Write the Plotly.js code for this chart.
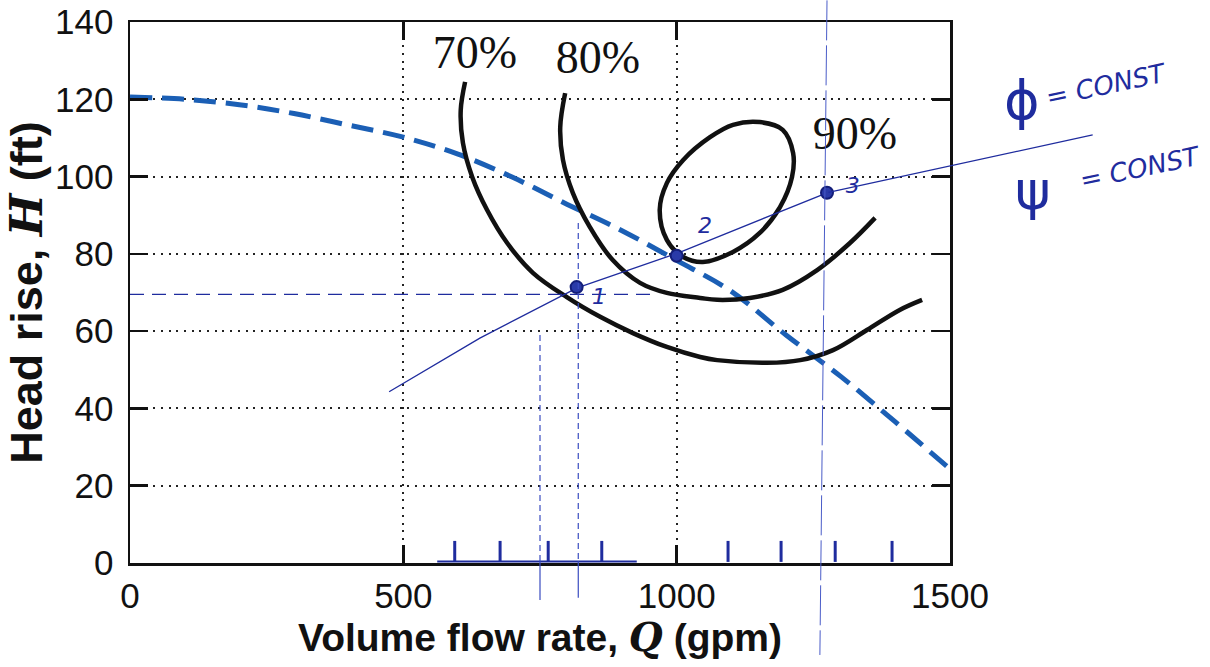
<!DOCTYPE html>
<html>
<head>
<meta charset="utf-8">
<script src="https://cdn.plot.ly/plotly-3.0.1.min.js"></script>
<style>html,body{margin:0;padding:0;background:#fff;}#chart{width:1210px;height:667px;}</style>
</head>
<body>
<div id="chart"></div>
<script>
// ---- data ----
const xTicks = [0, 500, 1000, 1500];
const yTicks = [0, 20, 40, 60, 80, 100, 120, 140];

// pump performance curve (dashed blue)
const pumpQ = [0, 100, 200, 300, 400, 500, 600, 700, 800, 900, 1000, 1100, 1200, 1300, 1400, 1500];
const pumpH = [120.6, 120.0, 118.6, 116.3, 113.3, 110.2, 105.8, 99.8, 92.8, 86.0, 78.3, 70.3, 59.0, 48.3, 36.5, 24.3];

// efficiency contours
const eff70Q = [613, 605, 609, 626, 653, 690, 737, 799, 860, 920, 982, 1043, 1074, 1165, 1226, 1286, 1348, 1408, 1449];
const eff70H = [124.5, 117.2, 108.7, 99.9, 91.4, 82.8, 75.1, 68.8, 63.7, 59.5, 55.9, 53.3, 52.5, 51.8, 52.5, 55.1, 60.3, 65.5, 68.1];
const eff80Q = [796, 787, 792, 810, 841, 883, 933, 982, 1043, 1074, 1134, 1194, 1257, 1317, 1363];
const eff80H = [121.6, 112.8, 104.3, 95.8, 87.0, 78.4, 72.5, 69.9, 68.6, 68.1, 68.6, 70.7, 75.8, 82.8, 89.3];
const eff90Q = [1152, 1194, 1213, 1211, 1189, 1152, 1103, 1048, 1012, 982, 969, 982, 1012, 1061, 1103, 1152];
const eff90H = [114.1, 112.1, 106.1, 99.9, 92.1, 85.4, 80.5, 77.9, 79.2, 83.6, 91.4, 98.3, 104.3, 110.2, 113.4, 114.1];
const effLabels = ["70%", "80%", "90%"];
const effLabelQ = [631, 856, 1326];
const effLabelH = [131, 129.7, 110];

// handwritten annotations
const simQ = [474, 640, 818, 1002, 1275];          // similarity (phi, psi = const) line
const simH = [44.3, 58.2, 71.2, 80.2, 95.8];
const simEndQ = 1761, simEndH = 110.8;
const opQ = [817, 1000, 1275];                      // operating points 1, 2, 3
const opH = [71.4, 79.5, 95.8];
const opLabels = ["1", "2", "3"];
const opLabelQ = [858, 1052, 1322];
const opLabelH = [68.5, 86.7, 97.3];
const guideHQ = [0, 960];                           // horizontal guide at H ~ 70
const guideHH = [69.5, 69.5];
const tickMarkQ = [594, 677, 765, 863, 1094, 1191, 1290, 1394];
const tickMarkH = [3, 3, 3, 3, 3, 3, 3, 3];
const baseQ = [562, 927];
const baseH = [0.4, 0.4];
const vertQ = [750, 820];                            // dashed verticals
const vertTopH = [59, 88];
const vert3Q = [1275, 1262];                         // long vertical through point 3 (top, bottom)
const label850Q = 850;

const ink = '#1f2c9e';
const black = '#111111';

const traces = [
  {x: pumpQ, y: pumpH, mode: 'lines', line: {color: '#1b5fb5', width: 5, dash: '22px,10px', shape: 'spline'}, hoverinfo: 'skip'},
  {x: eff70Q, y: eff70H, mode: 'lines', line: {color: black, width: 4.5, shape: 'spline'}, hoverinfo: 'skip'},
  {x: eff80Q, y: eff80H, mode: 'lines', line: {color: black, width: 4.5, shape: 'spline'}, hoverinfo: 'skip'},
  {x: eff90Q, y: eff90H, mode: 'lines', line: {color: black, width: 4.5, shape: 'spline'}, hoverinfo: 'skip'},
  {x: guideHQ, y: guideHH, mode: 'lines', line: {color: ink, width: 1.2, dash: '14px,8px'}, hoverinfo: 'skip'},
  {x: simQ, y: simH, mode: 'lines', line: {color: ink, width: 1.3}, hoverinfo: 'skip'},
  {x: baseQ, y: baseH, mode: 'lines', line: {color: ink, width: 2}, hoverinfo: 'skip'},
  {x: tickMarkQ, y: tickMarkH, mode: 'markers', marker: {symbol: 'line-ns', size: 15, line: {color: ink, width: 3}}, hoverinfo: 'skip'},
  {x: opQ, y: opH, mode: 'markers', marker: {symbol: 'circle', size: 12, color: '#2a3aa8', line: {color: '#141e78', width: 2}}, hoverinfo: 'skip'},
  {x: effLabelQ, y: effLabelH, mode: 'text', text: effLabels, textfont: {family: 'Liberation Serif, serif', size: 46, color: black}, hoverinfo: 'skip'},
  {x: opLabelQ, y: opLabelH, mode: 'text', text: opLabels, textfont: {family: 'DejaVu Sans, sans-serif', size: 22, color: ink, style: 'italic'}, hoverinfo: 'skip'}
];

const shapes = [];
for (let i = 0; i < vertQ.length; i++) {
  shapes.push({type: 'line', xref: 'x', yref: 'y', x0: vertQ[i], x1: vertQ[i], y0: vertTopH[i], y1: 0,
    line: {color: '#3a4cc0', width: 1.2, dash: '6px,4px'}, layer: 'above'});
}
shapes.push({type: 'line', xref: 'x', yref: 'paper', x0: vert3Q[0], x1: vert3Q[1], y0: 1.04, y1: -0.17,
  line: {color: '#4a5cc8', width: 1, dash: '40px,5px'}, layer: 'above'});

const hw = {family: 'DejaVu Sans, sans-serif', color: ink};
const annotations = [
  // continuation of the similarity line beyond the frame
  {x: simEndQ, y: simEndH, xref: 'x', yref: 'y', ax: simQ[simQ.length - 1], ay: simH[simH.length - 1], axref: 'x', ayref: 'y',
   showarrow: true, arrowhead: 0, arrowwidth: 1.3, arrowcolor: ink, text: ' ', font: {size: 1}, standoff: 0, startstandoff: 0},
  // dashed verticals continuing below the axis
  {x: vertQ[0], y: -9.6, xref: 'x', yref: 'y', ax: vertQ[0], ay: 1, axref: 'x', ayref: 'y', showarrow: true, arrowhead: 0,
   arrowwidth: 1.2, arrowcolor: '#3a4cc0', text: ' ', font: {size: 1}},
  {x: vertQ[1], y: -9, xref: 'x', yref: 'y', ax: vertQ[1], ay: 1, axref: 'x', ayref: 'y', showarrow: true, arrowhead: 0,
   arrowwidth: 1.2, arrowcolor: '#3a4cc0', text: ' ', font: {size: 1}},
  {x: label850Q, y: -11.5, xref: 'x', yref: 'y', text: '850', showarrow: false,
   font: Object.assign({size: 26, style: 'italic'}, hw)},
  {x: 1.088, y: 0.854, xref: 'paper', yref: 'paper', xanchor: 'center', yanchor: 'middle', text: 'ϕ', showarrow: false,
   font: Object.assign({size: 54}, hw)},
  {x: 1.191, y: 0.884, xref: 'paper', yref: 'paper', xanchor: 'center', yanchor: 'middle', text: '= CONST', showarrow: false, textangle: -12,
   font: Object.assign({size: 26, style: 'italic'}, hw)},
  {x: 1.101, y: 0.689, xref: 'paper', yref: 'paper', xanchor: 'center', yanchor: 'middle', text: 'ψ', showarrow: false,
   font: Object.assign({size: 54}, hw)},
  {x: 1.232, y: 0.730, xref: 'paper', yref: 'paper', xanchor: 'center', yanchor: 'middle', text: '= CONST', showarrow: false, textangle: -12,
   font: Object.assign({size: 26, style: 'italic'}, hw)}
];

const axisCommon = {
  showline: true, linecolor: black, linewidth: 2.5, mirror: 'ticks',
  ticks: 'inside', ticklen: 18, tickwidth: 2.5, tickcolor: black,
  showgrid: true, gridcolor: '#222', gridwidth: 2, griddash: '2px,5.7px',
  zeroline: false, tickfont: {family: 'Liberation Sans, Arial, sans-serif', size: 35, color: black}
};

const layout = {
  width: 1210, height: 667,
  margin: {l: 130, r: 260, t: 22, b: 104},
  paper_bgcolor: '#ffffff', plot_bgcolor: '#ffffff',
  showlegend: false,
  xaxis: Object.assign({}, axisCommon, {
    range: [0, 1500], tickmode: 'array', tickvals: xTicks, ticktext: xTicks.map(String),
    ticklabelstandoff: 0,
    title: {text: 'Volume flow rate, <span style="font-family:\'DejaVu Serif\'"><i>Q</i></span> (gpm)', standoff: 10,
      font: {family: 'Liberation Sans, Arial, sans-serif', size: 39, color: black, weight: 'bold'}}
  }),
  yaxis: Object.assign({}, axisCommon, {
    range: [0, 140], tickmode: 'array', tickvals: yTicks, ticktext: yTicks.map(String),
    ticklabelstandoff: 7,
    title: {text: 'Head rise, <span style="font-family:\'DejaVu Serif\'"><i>H</i></span> (ft)', standoff: 6,
      font: {family: 'Liberation Sans, Arial, sans-serif', size: 45, color: black, weight: 'bold'}}
  }),
  shapes: shapes,
  annotations: annotations
};

Plotly.newPlot('chart', traces, layout, {staticPlot: true, displayModeBar: false});
</script>
</body>
</html>
